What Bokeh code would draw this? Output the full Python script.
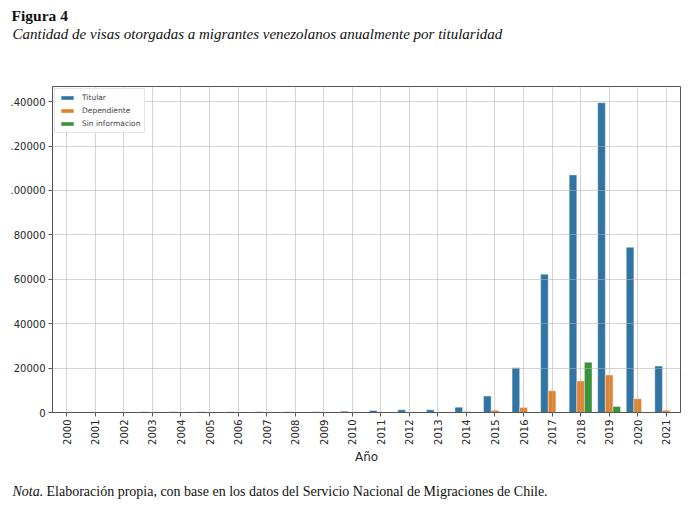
import math
from bokeh.plotting import figure
from bokeh.models import ColumnDataSource, FactorRange, Range1d, FixedTicker, Legend, Title
from bokeh.layouts import column, row
from bokeh.transform import dodge
from bokeh.core.properties import value
from bokeh.embed import file_html
from bokeh.resources import INLINE

years = [str(y) for y in range(2000, 2022)]
titular = [0, 0, 0, 300, 300, 300, 300, 300, 300, 300, 600, 900, 1200, 1200,
           2400, 7400, 20100, 62300, 107000, 139500, 74400, 20900]
dependiente = [0, 0, 0, 0, 0, 0, 0, 0, 0, 0, 0, 0, 0, 0,
               400, 1000, 2300, 9800, 14200, 16900, 6200, 1000]
sin_informacion = [0, 0, 0, 0, 0, 0, 0, 0, 0, 0, 0, 0, 0, 0,
                   0, 0, 0, 0, 22600, 2700, 0, 0]
y_ticks = [0, 20000, 40000, 60000, 80000, 100000, 120000, 140000]
y_tick_labels = ["0", "20000", "40000", "60000", "80000", ".00000", ".20000", ".40000"]

title_text = "Figura 4"
subtitle_text = "Cantidad de visas otorgadas a migrantes venezolanos anualmente por titularidad"
note_italic = "Nota."
note_text = "Elaboración propia, con base en los datos del Servicio Nacional de Migraciones de Chile."

series = [("Titular", titular, "#3274A1", -0.2667),
          ("Dependiente", dependiente, "#E1812C", 0.0),
          ("Sin informacion", sin_informacion, "#3A923A", 0.2667)]

W = 690

p = figure(width=W, height=470, x_range=FactorRange(*years), y_range=Range1d(0, 146800),
           output_backend="svg", toolbar_location=None, title=None,
           min_border_left=52, min_border_right=10, min_border_top=0, min_border_bottom=58)
p.background_fill_color = "white"
p.border_fill_color = "white"
p.outline_line_color = "#555555"
p.outline_line_width = 1

# stacked above the frame, nearest first
p.add_layout(Title(text=" ", text_font_size="1px", standoff=41.5), "above")
p.add_layout(Title(text=subtitle_text, align="left", offset=-40, standoff=0,
                   text_font="Liberation Serif", text_font_size="15px",
                   text_font_style="italic", text_color="#111111"), "above")
p.add_layout(Title(text=title_text, align="left", offset=-41, standoff=0,
                   text_font="Liberation Serif", text_font_size="15.5px",
                   text_font_style="bold", text_color="#111111"), "above")
p.add_layout(Title(text=" ", text_font_size="1px", standoff=0.5), "above")

items = []
for name, vals, color, off in series:
    xs = [y for y, v in zip(years, vals) if v > 0]
    vs = [v for v in vals if v > 0]
    src = ColumnDataSource(dict(year=xs, val=vs))
    r = p.vbar(x=dodge("year", off, range=p.x_range), top="val", width=0.2667, source=src,
               fill_color=color, line_color="white", line_alpha=0.5, line_width=0.8)
    items.append((name, [r]))

legend = Legend(items=items, location="top_left", margin=2, padding=4,
                label_text_font="DejaVu Sans", label_text_font_size="7.5px",
                label_height=8, glyph_height=5, glyph_width=16, spacing=4,
                label_standoff=7, border_line_color="#cccccc", background_fill_alpha=0.9)
p.add_layout(legend, "center")

for ax in (p.xaxis[0], p.yaxis[0]):
    ax.axis_line_color = "#555555"
    ax.major_tick_line_color = "#555555"
    ax.major_tick_out = 4
    ax.major_tick_in = 0
    ax.minor_tick_line_color = None
    ax.major_label_text_font = "DejaVu Sans"
    ax.major_label_text_font_size = "10px"
    ax.major_label_text_color = "#262626"
    ax.major_label_standoff = 3

p.yaxis.ticker = FixedTicker(ticks=y_ticks)
p.yaxis.major_label_overrides = {t: l for t, l in zip(y_ticks, y_tick_labels)}
p.xaxis.major_label_orientation = math.pi / 2
p.xaxis.axis_label = "Año"
p.xaxis.axis_label_text_font = "DejaVu Sans"
p.xaxis.axis_label_text_font_size = "12px"
p.xaxis.axis_label_text_font_style = "normal"
p.xaxis.axis_label_text_color = "#262626"
p.xaxis.axis_label_standoff = 2

p.ygrid.ticker = FixedTicker(ticks=y_ticks)
for g in (p.xgrid[0], p.ygrid[0]):
    g.grid_line_color = "#b0b0b0"
    g.grid_line_alpha = 0.55
    g.grid_line_width = 1
    g.level = "guide"

bottom = figure(width=W, height=40, x_range=Range1d(0, W), y_range=Range1d(0, 40),
                x_axis_type=None, y_axis_type=None, output_backend="svg",
                toolbar_location=None, min_border=0, title=None)
bottom.outline_line_color = None
bottom.xgrid.visible = False
bottom.ygrid.visible = False
bottom.text(x=[12], y=[19], text=[note_italic], text_font=value("Liberation Serif"),
            text_font_size="14px", text_font_style="italic", text_color="#111111",
            text_baseline="alphabetic")
bottom.text(x=[46], y=[19], text=[note_text], text_font=value("Liberation Serif"),
            text_font_size="14px", text_color="#111111", text_baseline="alphabetic")

layout = column(p, row(bottom), spacing=0)
open("out.html", "w").write(file_html(layout, INLINE))
